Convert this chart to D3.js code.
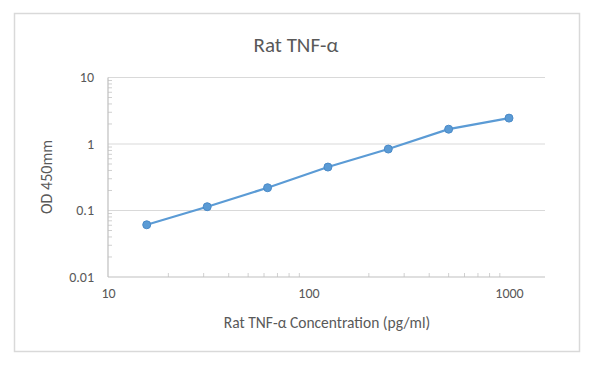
<!DOCTYPE html>
<html><head><meta charset="utf-8">
<script src="https://cdn.jsdelivr.net/npm/d3@7"></script>
<style>body{margin:0;background:#fff}svg{display:block}text{font-family:Calibri,Carlito,Lato,"Liberation Sans",Arial,sans-serif}</style>
</head><body><svg id="c" width="600" height="366"></svg>
<script>
const concentrations = [15.6, 31.25, 62.5, 125, 250, 500, 1000];
const odValues = [0.061, 0.114, 0.22, 0.45, 0.84, 1.67, 2.45];
const xTickValues = [10, 100, 1000];
const yTickValues = [0.01, 0.1, 1, 10];
const xTickLabels = ["10", "100", "1000"];
const yTickLabels = ["0.01", "0.1", "1", "10"];
const title = "Rat TNF-α";
const xTitle = "Rat TNF-α Concentration (pg/ml)";
const yTitle = "OD 450mm";

const svg = d3.select("#c");
const txt = "#595959", grid = "#d9d9d9", blue = "#5b9bd5";

svg.append("rect").attr("x",14.5).attr("y",13.5).attr("width",565).attr("height",338)
  .attr("fill","#fff").attr("stroke","#d9d9d9").attr("stroke-width",1.5);

const x = d3.scaleLog().domain([10,1000]).range([108,509]);
const y = d3.scaleLog().domain([0.01,10]).range([277,77.5]);
const xEnd = 545;

// gridlines
svg.append("g").selectAll("line").data(yTickValues.filter(v=>v>0.01)).join("line")
  .attr("x1",x(10)).attr("x2",xEnd).attr("y1",d=>y(d)).attr("y2",d=>y(d))
  .attr("stroke",grid).attr("stroke-width",1.2);

// minor ticks
const yMinor = [];
[0.01,0.1,1].forEach(b=>{for(let k=2;k<=9;k++) yMinor.push(b*k);});
svg.append("g").selectAll("line").data(yMinor).join("line")
  .attr("x1",x(10)).attr("x2",x(10)+4).attr("y1",d=>y(d)).attr("y2",d=>y(d))
  .attr("stroke","#d0d0d0").attr("stroke-width",1);
const xMinor = [];
[10,100,1000].forEach(b=>{for(let k=2;k<=9;k++){const v=b*k; if(x(v)<xEnd-3) xMinor.push(v);}});
svg.append("g").selectAll("line").data(xMinor).join("line")
  .attr("x1",d=>x(d)).attr("x2",d=>x(d)).attr("y1",y(0.01)).attr("y2",y(0.01)-4)
  .attr("stroke","#d0d0d0").attr("stroke-width",1);

// axes
const xAxis = d3.axisBottom(x).tickValues(xTickValues).tickFormat((d,i)=>xTickLabels[i]).tickSize(0).tickPadding(11);
const gx = svg.append("g").attr("transform",`translate(0,${y(0.01)})`).call(xAxis);
gx.select(".domain").attr("d",`M${x(10)},0H${xEnd}`).attr("stroke","#bfbfbf").attr("stroke-width",1.2);
gx.selectAll("text").attr("fill",txt).attr("font-size",14);

const yAxis = d3.axisLeft(y).tickValues(yTickValues).tickFormat((d,i)=>yTickLabels[i]).tickSize(0).tickPadding(14);
const gy = svg.append("g").attr("transform",`translate(${x(10)},0)`).call(yAxis);
gy.select(".domain").attr("d",`M0,${y(10)}V${y(0.01)}`).attr("stroke","#bfbfbf").attr("stroke-width",1.2);
gy.selectAll("text").attr("fill",txt).attr("font-size",14);

// line
const pts = concentrations.map((c,i)=>[c,odValues[i]]);
svg.append("path").datum(pts)
  .attr("d",d3.line().x(d=>x(d[0])).y(d=>y(d[1])))
  .attr("fill","none").attr("stroke",blue).attr("stroke-width",2.2);
svg.append("g").selectAll("circle").data(pts).join("circle")
  .attr("cx",d=>x(d[0])).attr("cy",d=>y(d[1])).attr("r",4)
  .attr("fill",blue).attr("stroke","#4a8ac8").attr("stroke-width",1);

// titles
svg.append("text").attr("x",296).attr("y",52).attr("text-anchor","middle")
  .attr("font-size",21).attr("fill",txt).text(title);
svg.append("text").attr("x",327).attr("y",328).attr("text-anchor","middle")
  .attr("font-size",15.5).attr("fill",txt).text(xTitle);
svg.append("text").attr("transform","translate(52,177) rotate(-90)").attr("text-anchor","middle")
  .attr("font-size",16).attr("fill",txt).text(yTitle);
</script></body></html>
